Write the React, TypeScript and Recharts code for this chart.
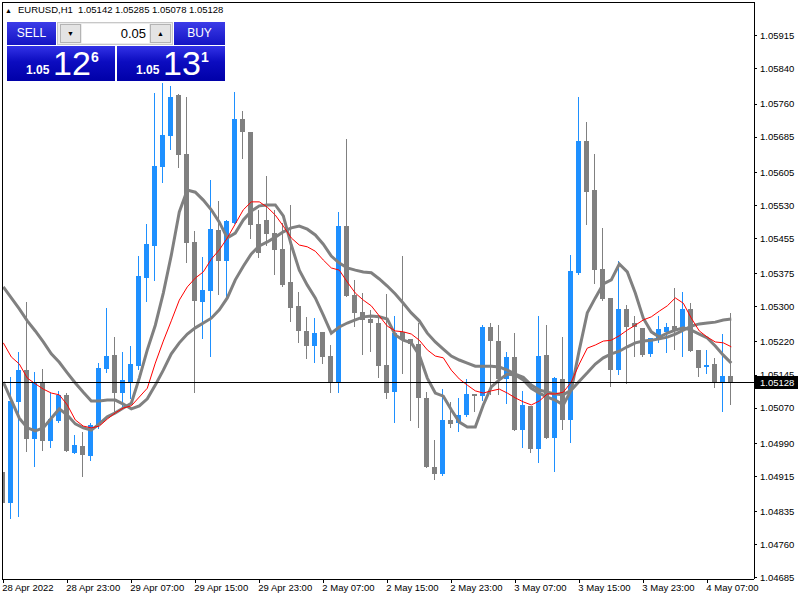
import React from "react";
import { Bar, ComposedChart, Line, ReferenceLine, XAxis, YAxis } from "recharts";

const symbol = "EURUSD,H1";
const lastBar = ["1.05142", "1.05285", "1.05078", "1.05128"];
const lastPrice = 1.05128;
const lots = "0.05";
const sellQuote = ["1.05", "12", "6"];
const buyQuote = ["1.05", "13", "1"];

const timeLabels = [
  "28 Apr 2022", "28 Apr 23:00", "29 Apr 07:00", "29 Apr 15:00", "29 Apr 23:00", "2 May 07:00",
  "2 May 15:00", "2 May 23:00", "3 May 07:00", "3 May 15:00", "3 May 23:00", "4 May 07:00",
];
const labelBars = [0, 8, 16, 24, 32, 40, 48, 56, 64, 72, 80, 88];

const priceTicks = [
  1.05915, 1.0584, 1.0576, 1.05685, 1.05605, 1.0553, 1.05455, 1.05375, 1.053, 1.0522, 1.05145,
  1.0507, 1.0499, 1.04915, 1.04835, 1.0476, 1.04685,
];

const opens = [
  1.04925, 1.04854, 1.05084, 1.05156, 1.05, 1.05127, 1.04995, 1.05041, 1.051, 1.04968,
  1.04984, 1.04961, 1.05031, 1.05159, 1.0519, 1.05104, 1.05129, 1.05165, 1.05365, 1.05438,
  1.05617, 1.05688, 1.05781, 1.05647, 1.05447, 1.05311, 1.05336, 1.05474, 1.05404, 1.0549,
  1.05726, 1.05697, 1.05488, 1.05497, 1.05467, 1.05431, 1.05356, 1.05302, 1.05245, 1.05211,
  1.05243, 1.05188, 1.05129, 1.05483, 1.05327, 1.05288, 1.05272, 1.05263, 1.05168, 1.05106,
  1.05243, 1.05227, 1.05215, 1.05093, 1.04936, 1.0492, 1.05043, 1.05036, 1.05054, 1.05102,
  1.05097, 1.05254, 1.05222, 1.05136, 1.05186, 1.0502, 1.05075, 1.04977, 1.0519, 1.05002,
  1.05136, 1.05043, 1.05377, 1.05676, 1.05565, 1.05386, 1.0532, 1.05156, 1.05295, 1.05263,
  1.05252, 1.05193, 1.05229, 1.05243, 1.05256, 1.05247, 1.05295, 1.05202, 1.05163, 1.0517,
  1.05127, 1.05142,
];
const highs = [
  1.0524, 1.0514, 1.05197, 1.05311, 1.05152, 1.05159, 1.05104, 1.05109, 1.05104, 1.05009,
  1.05016, 1.05036, 1.05172, 1.05297, 1.05231, 1.05197, 1.05211, 1.05415, 1.05488, 1.05785,
  1.05808, 1.05801, 1.05783, 1.05776, 1.05472, 1.05413, 1.05588, 1.0554, 1.05497, 1.05787,
  1.05744, 1.05697, 1.0552, 1.05597, 1.0552, 1.0549, 1.05531, 1.05333, 1.05277, 1.05274,
  1.05243, 1.05213, 1.05515, 1.05681, 1.05361, 1.05331, 1.05293, 1.05277, 1.05329, 1.05279,
  1.05415, 1.05227, 1.05263, 1.05106, 1.04997, 1.05113, 1.05084, 1.05093, 1.05136, 1.05102,
  1.05258, 1.05263, 1.05258, 1.05197, 1.0524, 1.05109, 1.05075, 1.05279, 1.05258, 1.0514,
  1.05231, 1.05417, 1.05776, 1.05719, 1.05647, 1.05479, 1.0532, 1.05404, 1.05304, 1.05279,
  1.05252, 1.05229, 1.05279, 1.05263, 1.05342, 1.05333, 1.05308, 1.05202, 1.05202, 1.05184,
  1.05238, 1.05285,
];
const lows = [
  1.04718, 1.04818, 1.04823, 1.0497, 1.04936, 1.04972, 1.04979, 1.05036, 1.0497, 1.04966,
  1.04913, 1.0495, 1.05022, 1.0515, 1.05054, 1.05072, 1.05091, 1.05156, 1.05311, 1.05358,
  1.05581, 1.05656, 1.05615, 1.05399, 1.05104, 1.05227, 1.05186, 1.05327, 1.05322, 1.05488,
  1.05635, 1.05454, 1.05411, 1.05438, 1.05372, 1.05345, 1.05265, 1.05218, 1.05181, 1.05172,
  1.0517, 1.05104, 1.05104, 1.05322, 1.05254, 1.0519, 1.05197, 1.05138, 1.05091, 1.05036,
  1.05147, 1.05041, 1.05025, 1.04934, 1.04907, 1.04916, 1.05025, 1.05016, 1.0505, 1.05061,
  1.05086, 1.051, 1.051, 1.05079, 1.05018, 1.04979, 1.04968, 1.04945, 1.05, 1.04925,
  1.0502, 1.04991, 1.05372, 1.05486, 1.05352, 1.05313, 1.05118, 1.05145, 1.05125, 1.05186,
  1.05186, 1.05186, 1.05218, 1.05195, 1.05202, 1.05186, 1.05197, 1.0514, 1.05147, 1.05115,
  1.05061, 1.05078,
];
const closes = [
  1.04854, 1.05086, 1.05156, 1.05, 1.05127, 1.04995, 1.05045, 1.051, 1.04972, 1.04986,
  1.04963, 1.05031, 1.05161, 1.05188, 1.05104, 1.05134, 1.0517, 1.0537, 1.05442, 1.05619,
  1.0569, 1.05776, 1.05644, 1.05445, 1.05313, 1.05338, 1.05476, 1.05404, 1.05495, 1.05726,
  1.05697, 1.05486, 1.05422, 1.05465, 1.05429, 1.05349, 1.05297, 1.05245, 1.05211, 1.0524,
  1.05186, 1.05129, 1.05483, 1.05324, 1.05286, 1.0527, 1.05263, 1.05165, 1.05104, 1.0524,
  1.05224, 1.05215, 1.05093, 1.04936, 1.0492, 1.05043, 1.05034, 1.05054, 1.05102, 1.05097,
  1.05254, 1.05222, 1.05136, 1.05186, 1.0502, 1.05077, 1.04977, 1.05188, 1.05002, 1.05138,
  1.05043, 1.05381, 1.05676, 1.0556, 1.05383, 1.05318, 1.05156, 1.05295, 1.05254, 1.05254,
  1.0519, 1.05229, 1.05249, 1.05254, 1.05247, 1.05295, 1.05199, 1.05161, 1.05168, 1.05129,
  1.05143, 1.05128,
];

// the three moving averages
const maFast = [
  1.05129, 1.05088, 1.05047, 1.05025, 1.05018, 1.05025, 1.05047, 1.05068, 1.05054, 1.05034,
  1.05025, 1.0502, 1.05034, 1.0505, 1.05059, 1.0507, 1.05081, 1.05138, 1.05202, 1.05258,
  1.05331, 1.05417, 1.05515, 1.05565, 1.0556, 1.05542, 1.0552, 1.05492, 1.05456, 1.05467,
  1.05497, 1.05517, 1.05529, 1.05531, 1.05531, 1.05506, 1.0544, 1.05383, 1.05349, 1.0532,
  1.05281, 1.0524, 1.05254, 1.05263, 1.0527, 1.05277, 1.05279, 1.05277, 1.05272, 1.05236,
  1.05224, 1.05218, 1.0519, 1.05138, 1.05104, 1.05097, 1.05066, 1.05038, 1.05027, 1.05027,
  1.05077, 1.05118, 1.05134, 1.05147, 1.05145, 1.05134, 1.05115, 1.05104, 1.05095, 1.05088,
  1.05077, 1.05111, 1.05202, 1.05286, 1.0532, 1.05352, 1.05361, 1.05397, 1.05379, 1.05331,
  1.05274, 1.05243, 1.05231, 1.0524, 1.05247, 1.05252, 1.05247, 1.05238, 1.05229, 1.05211,
  1.0519, 1.05172,
];
const maSlow = [
  1.05345, 1.0532, 1.05295, 1.05268, 1.05245, 1.0522, 1.05193, 1.05174, 1.0515, 1.05127,
  1.05106, 1.05086, 1.05086, 1.05088, 1.05088, 1.05079, 1.05068, 1.05075, 1.05091, 1.05122,
  1.05156, 1.05193, 1.05218, 1.05238, 1.05252, 1.05263, 1.05274, 1.05293, 1.0532, 1.05361,
  1.05392, 1.0542, 1.05438, 1.05447, 1.05458, 1.0547, 1.05479, 1.05483, 1.05476, 1.05463,
  1.05442, 1.05415, 1.05399, 1.05388, 1.05383, 1.05379, 1.05377, 1.05363, 1.05347, 1.05329,
  1.05308, 1.05286, 1.05268, 1.0524, 1.0522, 1.05204, 1.05188, 1.05179, 1.05172, 1.05165,
  1.05165, 1.05165, 1.05163, 1.05156, 1.05147, 1.0514, 1.05122, 1.05111, 1.05106, 1.05102,
  1.051, 1.05111, 1.05131, 1.0515, 1.0517, 1.05184, 1.05193, 1.05199, 1.05209, 1.05218,
  1.05222, 1.05224, 1.05227, 1.05231, 1.05238, 1.05247, 1.05256, 1.05261, 1.05263, 1.05265,
  1.0527, 1.05272,
];
const maRed = [
  1.05218, 1.05186, 1.0517, 1.05138, 1.05125, 1.05113, 1.05104, 1.051, 1.05077, 1.05043,
  1.05029, 1.05025, 1.05029, 1.05045, 1.05059, 1.0507, 1.05075, 1.05095, 1.05115, 1.05172,
  1.05222, 1.05268, 1.05315, 1.05345, 1.05365, 1.05379, 1.05408, 1.05429, 1.05456, 1.05488,
  1.0552, 1.05538, 1.05538, 1.05526, 1.05508, 1.05483, 1.05456, 1.0544, 1.05436, 1.05426,
  1.05406, 1.05388, 1.05383, 1.05356, 1.05331, 1.05315, 1.05302, 1.05279, 1.05256, 1.05245,
  1.05243, 1.05238, 1.05224, 1.05202, 1.05188, 1.05184, 1.05156, 1.05136, 1.05122, 1.05109,
  1.05104, 1.05109, 1.05113, 1.05104, 1.05093, 1.05084, 1.05077, 1.05086, 1.05102, 1.05102,
  1.05106, 1.05129, 1.0517, 1.05206, 1.05213, 1.05222, 1.05224, 1.05234, 1.05247, 1.05258,
  1.0527, 1.05277, 1.0529, 1.05302, 1.0532, 1.05308, 1.05274, 1.05245, 1.05231, 1.0522,
  1.05218, 1.05209,
];

const BULL = "#1E90FF";
const BEAR = "#808080";
const FONT = '"Liberation Sans", Arial, sans-serif';
const BLUE_BTN = "linear-gradient(#3c3ce8, #1414c4)";
const BLUE_PANEL = "linear-gradient(#3232e6 0%, #0c0cc0 45%, #0000a8 100%)";

const data = opens.map((o, i) => ({
  i,
  open: o,
  high: highs[i],
  low: lows[i],
  close: closes[i],
  fast: maFast[i],
  slow: maSlow[i],
  red: maRed[i],
}));

const Candle = (props: any) => {
  const { x, y, width, height, payload } = props;
  if (!payload || height == null) return null;
  const { open, close, high, low } = payload;
  const top = Math.min(y, y + height);
  const h = Math.abs(height);
  const span = high - low || 1;
  const yOf = (p: number) => top + ((high - p) / span) * h;
  const cx = x + width / 2;
  const color = close > open ? BULL : BEAR;
  const bodyTop = yOf(Math.max(open, close));
  const bodyBot = yOf(Math.min(open, close));
  return (
    <g shapeRendering="crispEdges">
      <rect x={cx - 0.5} y={top} width={1} height={h} fill={color} />
      <rect x={cx - 2.5} y={bodyTop} width={5} height={Math.max(1, bodyBot - bodyTop)} fill={color} />
    </g>
  );
};

const TimeTick = (props: any) => {
  const { x, y, payload } = props;
  const idx = labelBars.indexOf(payload.value);
  return (
    <text x={x - 1} y={y} dy="0.75em" textAnchor="start" fontSize={9.5} fontFamily={FONT} fill="#000">
      {timeLabels[idx]}
    </text>
  );
};

const PriceTick = (props: any) => {
  const { x, y, payload } = props;
  return (
    <text x={x} y={y} dy="0.35em" textAnchor="start" fontSize={9.5} fontFamily={FONT} fill="#000">
      {payload.value.toFixed(5)}
    </text>
  );
};

const PriceTag = (props: any) => {
  const vb = props.viewBox || {};
  const x = vb.x + vb.width;
  return (
    <g>
      <rect x={x} y={vb.y - 6.5} width={44} height={13} fill="#000" />
      <text x={x + 6} y={vb.y} dy="0.35em" fontSize={9.5} fontFamily={FONT} fill="#fff">
        {lastPrice.toFixed(5)}
      </text>
    </g>
  );
};

const Quote = ({ left, parts }: { left: number; parts: string[] }) => (
  <div style={{ position: "absolute", left, top: 46, width: 108, height: 35, background: BLUE_PANEL, color: "#fff" }}>
    <span style={{ position: "absolute", left: 19, top: 18, fontSize: 12, fontWeight: "bold", lineHeight: 1 }}>{parts[0]}</span>
    <span style={{ position: "absolute", left: 46, top: 0, fontSize: 34, lineHeight: 1 }}>{parts[1]}</span>
    <span style={{ position: "absolute", left: 84, top: 4, fontSize: 14, fontWeight: "bold", lineHeight: 1 }}>{parts[2]}</span>
  </div>
);

const btn: React.CSSProperties = {
  position: "absolute",
  top: 22,
  height: 23,
  background: BLUE_BTN,
  color: "#fff",
  fontSize: 12,
  lineHeight: "23px",
  textAlign: "center",
};

const spin: React.CSSProperties = {
  position: "absolute",
  top: 24,
  width: 21,
  height: 19,
  background: "#e4e4e4",
  border: "1px solid #b4b4b4",
  boxSizing: "border-box",
  fontSize: 7,
  lineHeight: "17px",
  textAlign: "center",
  color: "#000",
};

export default function App() {
  return (
    <div style={{ position: "absolute", left: 0, top: 0, width: 800, height: 600, background: "#fff", fontFamily: FONT, overflow: "hidden" }}>
      <ComposedChart width={800} height={600} data={data} margin={{ top: 2, right: 0, bottom: 0, left: 2 }}>
        <XAxis
          dataKey="i"
          type="number"
          domain={[-0.1625, 93.8375]}
          allowDataOverflow
          ticks={labelBars}
          interval={0}
          height={21}
          tick={<TimeTick />}
          tickSize={4}
          tickMargin={1}
          axisLine={{ stroke: "#000", shapeRendering: "crispEdges" }}
          tickLine={{ stroke: "#000", shapeRendering: "crispEdges" }}
        />
        <YAxis
          orientation="right"
          type="number"
          domain={[1.0468192, 1.0599171]}
          allowDataOverflow
          ticks={priceTicks}
          interval={0}
          width={46}
          tick={<PriceTick />}
          tickSize={3}
          tickMargin={3}
          axisLine={{ stroke: "#000", shapeRendering: "crispEdges" }}
          tickLine={{ stroke: "#000", shapeRendering: "crispEdges" }}
        />
        <Bar dataKey={(d: any) => [d.low, d.high]} barSize={5} shape={<Candle />} isAnimationActive={false} />
        <Line type="linear" dataKey="slow" stroke="#808080" strokeWidth={3} dot={false} activeDot={false} isAnimationActive={false} />
        <Line type="linear" dataKey="fast" stroke="#808080" strokeWidth={3} dot={false} activeDot={false} isAnimationActive={false} />
        <Line type="linear" dataKey="red" stroke="#FF0000" strokeWidth={1} dot={false} activeDot={false} isAnimationActive={false} />
        <ReferenceLine y={lastPrice} stroke="#000" strokeWidth={1} shapeRendering="crispEdges" label={<PriceTag />} />
      </ComposedChart>

      {/* chart frame: left and top edges */}
      <div style={{ position: "absolute", left: 2, top: 2, width: 752, height: 577, borderLeft: "1px solid #000", borderTop: "1px solid #000", boxSizing: "border-box", pointerEvents: "none" }} />

      <div style={{ position: "absolute", left: 5, top: 4, fontSize: 9.5, lineHeight: "12px", color: "#000", whiteSpace: "pre" }}>
        <span style={{ fontSize: 7, marginRight: 6 }}>▲</span>
        {symbol + "  " + lastBar.join(" ")}
      </div>

      <div style={{ ...btn, left: 7, width: 49 }}>SELL</div>
      <div style={{ position: "absolute", left: 57, top: 22, width: 116, height: 23, background: "#ececec", border: "1px solid #c8c8c8", boxSizing: "border-box" }} />
      <div style={{ ...spin, left: 60 }}>▼</div>
      <div style={{ position: "absolute", left: 82, top: 24, width: 67, height: 19, background: "#fff", fontSize: 13, lineHeight: "19px", textAlign: "right", paddingRight: 3, boxSizing: "border-box", color: "#000" }}>
        {lots}
      </div>
      <div style={{ ...spin, left: 150 }}>▲</div>
      <div style={{ ...btn, left: 174, width: 51 }}>BUY</div>
      <Quote left={7} parts={sellQuote} />
      <Quote left={117} parts={buyQuote} />
    </div>
  );
}
